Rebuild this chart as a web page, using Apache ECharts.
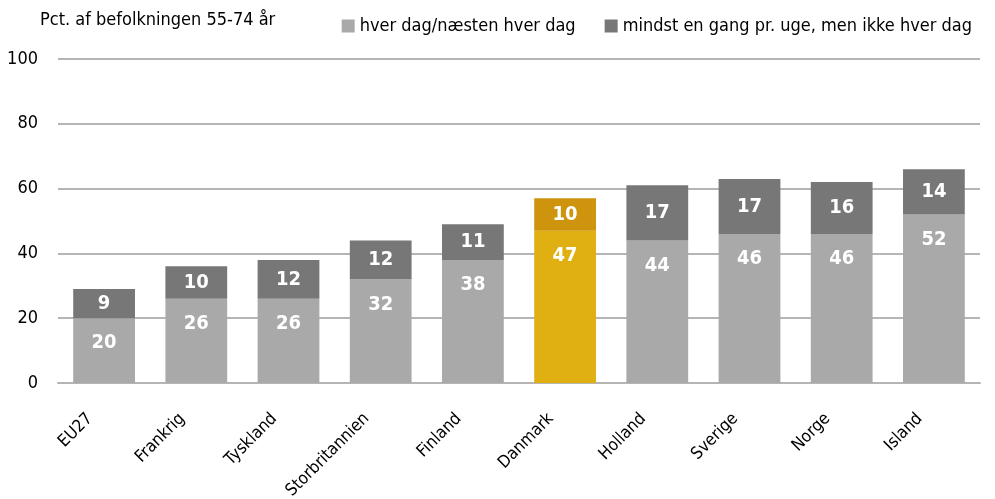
<!DOCTYPE html>
<html>
<head>
<meta charset="utf-8">
<script src="https://cdn.jsdelivr.net/npm/echarts@6/dist/echarts.min.js"></script>
<style>
  html, body { margin: 0; padding: 0; background: #fff; }
  #chart { width: 995px; height: 499px; }
</style>
</head>
<body>
<div id="chart"></div>
<script>
// data
var categories = ['EU27', 'Frankrig', 'Tyskland', 'Storbritannien', 'Finland', 'Danmark', 'Holland', 'Sverige', 'Norge', 'Island'];
var dailyValues = [20, 26, 26, 32, 38, 47, 44, 46, 46, 52];
var weeklyValues = [9, 10, 12, 12, 11, 10, 17, 17, 16, 14];
var yTicks = [0, 20, 40, 60, 80, 100];
var highlight = 'Danmark';

// condensed font, close to the original
var font = '"DejaVu Sans Condensed", sans-serif';

function makeData(values, normal, hi) {
  return values.map(function (v, i) {
    return {
      value: v,
      itemStyle: { color: categories[i] === highlight ? hi : normal }
    };
  });
}

var myChart = echarts.init(document.getElementById('chart'));

var option = {
  animation: false,
  textStyle: { fontFamily: font },
  grid: { left: 58, right: 15, top: 59, bottom: 116, containLabel: false, outerBoundsMode: 'none' },
  graphic: [{
    type: 'text',
    left: 40, top: 11,
    style: { text: 'Pct. af befolkningen 55-74 år', font: '18px ' + font, fill: '#000' }
  }],
  legend: {
    right: 18, top: 12,
    itemWidth: 13, itemHeight: 13, itemGap: 29,
    textStyle: { fontSize: 18, color: '#000', fontFamily: font, padding: [0, 0, 0, 0] },
    data: [
      { name: 'hver dag/næsten hver dag', icon: 'rect' },
      { name: 'mindst en gang pr. uge, men ikke hver dag', icon: 'rect' }
    ]
  },
  xAxis: {
    type: 'category',
    data: categories,
    axisLine: { show: true, lineStyle: { color: '#b5b5b5', width: 2 } },
    axisTick: { show: false },
    axisLabel: {
      rotate: 45, fontSize: 17, color: '#000', margin: 19, interval: 0,
      padding: [0, 20, 0, 0]
    }
  },
  yAxis: {
    type: 'value',
    min: 0, max: yTicks[yTicks.length - 1], interval: 20,
    axisLine: { show: false },
    axisTick: { show: false },
    splitLine: { lineStyle: { color: '#b5b5b5', width: 2 } },
    axisLabel: { fontSize: 18, color: '#000', margin: 20 }
  },
  series: [
    {
      name: 'hver dag/næsten hver dag',
      type: 'bar',
      stack: 'total',
      barWidth: '67%',
      itemStyle: { color: '#a9a9a9' },
      data: makeData(dailyValues, '#a9a9a9', '#e0b012'),
      label: {
        show: true, position: 'insideTop', distance: 15,
        color: '#fff', fontWeight: 'bold', fontSize: 20
      }
    },
    {
      name: 'mindst en gang pr. uge, men ikke hver dag',
      type: 'bar',
      stack: 'total',
      barWidth: '67%',
      itemStyle: { color: '#777777' },
      data: makeData(weeklyValues, '#777777', '#cf940e'),
      label: {
        show: true, position: 'inside',
        color: '#fff', fontWeight: 'bold', fontSize: 20
      }
    }
  ]
};

myChart.setOption(option);
</script>
</body>
</html>
